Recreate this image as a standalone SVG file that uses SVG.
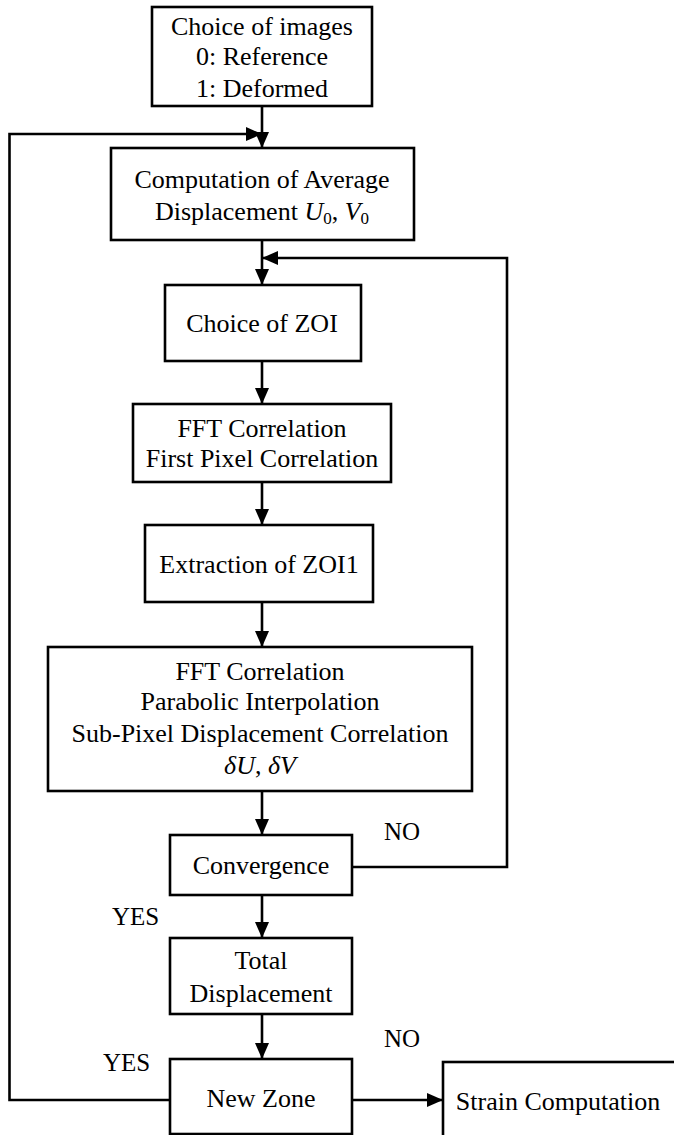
<svg xmlns="http://www.w3.org/2000/svg" width="674" height="1135" viewBox="0 0 674 1135">
<style>
  .box { fill: #fff; stroke: #000; stroke-width: 2.6; }
  .t { font-family: "Liberation Serif", "Times New Roman", serif; font-size: 26px; fill: #000; text-anchor: middle; }
  .lbl { font-family: "Liberation Serif", "Times New Roman", serif; font-size: 25px; fill: #000; }
  .c { fill: none; stroke: #000; stroke-width: 2.6; }
  .i { font-style: italic; }
</style>
<defs>
  <marker id="ah" markerUnits="userSpaceOnUse" markerWidth="16" markerHeight="14" refX="16" refY="7" orient="auto">
    <path d="M0,0 L16,7 L0,14 z" fill="#000"/>
  </marker>
</defs>
<rect width="674" height="1135" fill="#fff"/>
<g id="connectors">
  <line class="c" x1="262" y1="106" x2="262" y2="148" marker-end="url(#ah)"/>
  <polyline class="c" points="170,1100 9.5,1100 9.5,134 262,134" marker-end="url(#ah)"/>
  <line class="c" x1="262" y1="240" x2="262" y2="285" marker-end="url(#ah)"/>
  <polyline class="c" points="352,867 507,867 507,258 262,258" marker-end="url(#ah)"/>
  <line class="c" x1="262" y1="361" x2="262" y2="404" marker-end="url(#ah)"/>
  <line class="c" x1="262" y1="482" x2="262" y2="525" marker-end="url(#ah)"/>
  <line class="c" x1="262" y1="602" x2="262" y2="647" marker-end="url(#ah)"/>
  <line class="c" x1="262" y1="791" x2="262" y2="835" marker-end="url(#ah)"/>
  <line class="c" x1="262" y1="895" x2="262" y2="938" marker-end="url(#ah)"/>
  <line class="c" x1="262" y1="1014" x2="262" y2="1059" marker-end="url(#ah)"/>
  <line class="c" x1="352" y1="1100" x2="443" y2="1100" marker-end="url(#ah)"/>
  <text class="lbl" x="384" y="840">NO</text>
  <text class="lbl" x="112" y="925">YES</text>
  <text class="lbl" x="384" y="1047">NO</text>
  <text class="lbl" x="103" y="1071">YES</text>
</g>
<g id="choice-images">
  <rect class="box" x="152" y="7" width="220" height="99"/>
  <text class="t" x="262" y="35">Choice of images</text>
  <text class="t" x="262" y="65">0: Reference</text>
  <text class="t" x="262" y="97">1: Deformed</text>
</g>
<g id="average-displacement">
  <rect class="box" x="111" y="148" width="303" height="92"/>
  <text class="t" x="262" y="188">Computation of Average</text>
  <text class="t" x="262" y="220">Displacement <tspan class="i">U</tspan><tspan font-size="17" dy="4">0</tspan><tspan dy="-4">, </tspan><tspan class="i">V</tspan><tspan font-size="17" dy="4">0</tspan></text>
</g>
<g id="choice-zoi">
  <rect class="box" x="165" y="285" width="196" height="76"/>
  <text class="t" x="262" y="332">Choice of ZOI</text>
</g>
<g id="fft-first">
  <rect class="box" x="133" y="404" width="258" height="78"/>
  <text class="t" x="262" y="437">FFT Correlation</text>
  <text class="t" x="262" y="467">First Pixel Correlation</text>
</g>
<g id="extraction">
  <rect class="box" x="145" y="525" width="228" height="77"/>
  <text class="t" x="259" y="573">Extraction of ZOI1</text>
</g>
<g id="fft-subpixel">
  <rect class="box" x="48" y="647" width="424" height="144"/>
  <text class="t" x="260" y="680">FFT Correlation</text>
  <text class="t" x="260" y="710">Parabolic Interpolation</text>
  <text class="t" x="260" y="742">Sub-Pixel Displacement Correlation</text>
  <text class="t" x="260" y="774"><tspan class="i">δU</tspan>, <tspan class="i">δV</tspan></text>
</g>
<g id="convergence">
  <rect class="box" x="170" y="835" width="182" height="60"/>
  <text class="t" x="261" y="874">Convergence</text>
</g>
<g id="total-displacement">
  <rect class="box" x="170" y="938" width="182" height="76"/>
  <text class="t" x="261" y="969">Total</text>
  <text class="t" x="261" y="1002">Displacement</text>
</g>
<g id="new-zone">
  <rect class="box" x="170" y="1059" width="182" height="75"/>
  <text class="t" x="261" y="1107">New Zone</text>
</g>
<g id="strain">
  <rect class="box" x="443" y="1062" width="250" height="100"/>
  <text class="t" x="558" y="1110">Strain Computation</text>
</g>
</svg>
